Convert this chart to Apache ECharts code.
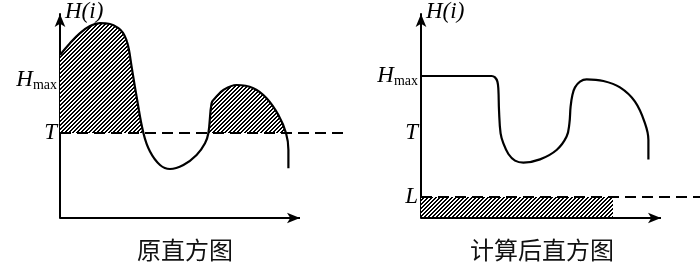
<!DOCTYPE html>
<html><head><meta charset="utf-8">
<script src="https://cdn.jsdelivr.net/npm/echarts@6/dist/echarts.min.js"></script>
<style>html,body{margin:0;padding:0;background:#fff}#c{width:700px;height:264px}</style>
</head><body><div id="c"></div>
<script>
// ---- data (arbitrary units: x = gray level, y = histogram count) ----
const leftCurve = [
  [0,81.5],[5,87.4],[10,92.4],[15,96],[20,97.4],[25,97],[29.2,94.9],[31.5,92.6],[33.2,89],[34.4,84.5],
  [35.8,75.7],[38.3,60.7],[41.7,42.5],[45,33.2],[50,26.5],[55,24.5],[61.7,26.5],[68.3,31.5],
  [72.5,37.4],[74.2,42.5],[75.8,57.4],[77.5,59.9],[81.7,64],[88.3,66.5],[96.7,64.9],
  [103.3,59.9],[109.2,51.5],[113,42.5],[114.2,34],[114.2,24.9]
];
const rightCurve = [
  [0,71],[35.3,71],[37,70.3],[38.2,68.2],[38.7,64],[39,54],[39.8,42.3],[41.2,37.3],[43.7,32],
  [47,28.7],[51.2,27.7],[59.5,29.3],[67.8,34],[72.8,40.7],[74.2,47.3],[74.8,55.7],[75.7,61.5],
  [77,65.3],[79.5,68.2],[82.8,69.3],[91.2,68.5],[99.5,65.3],[107,58.2],[112,47.3],[113.7,39],[113.7,29.3]
];
const T = 42.5;          // threshold (left and right)
const HmaxLeft = 69;     // label position on left axis
const HmaxRight = 71;    // clipped level on right
const L = 10.5;          // redistributed level
const xAxisEnd = 120;    // end of the drawn x axis (arrow)
const leftDashEnd = 141.5;
const rightDashEnd = 139.5;
const rightHatchEnd = 96;
const leftTicks = [T, HmaxLeft];
const leftTickLabels = ['{i|T}', '{i|H}{s|max}'];
const rightTicks = [L, T, HmaxRight];
const rightTickLabels = ['{i|L}', '{i|T}', '{i|H}{s|max}'];
const captions = ['原直方图', '计算后直方图'];

// hatched runs of the left curve: contiguous points with y >= T
const hatchRuns = [];
let run = [];
leftCurve.forEach(p => { if (p[1] >= T) run.push(p); else { if (run.length > 1) hatchRuns.push(run); run = []; } });
if (run.length > 1) hatchRuns.push(run);

// crisp "////" hatch pattern, 4px period
const pc = document.createElement('canvas');
pc.width = 4; pc.height = 4;
const g = pc.getContext('2d');
g.fillStyle = '#fff'; g.fillRect(0, 0, 4, 4);
g.fillStyle = '#000';
for (let x = 0; x < 4; x++) for (let y = 0; y < 4; y++) {
  const m = (x + y) % 4;
  if (m === 0 || m === 1) g.fillRect(x, y, 1, 1);
}
const hatch = { image: pc, repeat: 'repeat' };

const chart = echarts.init(document.getElementById('c'), null, { renderer: 'canvas' });

const rich = {
  i: { fontFamily: 'Liberation Serif', fontStyle: 'italic', fontSize: 23, color: '#000' },
  s: { fontFamily: 'Liberation Serif', fontSize: 14, color: '#000', padding: [11, 0, 0, 0] }
};
function yAxisFor(ticks, labels, gi) {
  return {
    gridIndex: gi, type: 'value', min: 0, max: 102, interval: 0.5,
    splitLine: { show: false }, axisTick: { show: false },
    axisLine: { show: true, lineStyle: { color: '#000', width: 2 }, symbol: ['none', 'arrow'], symbolSize: [8, 13] },
    axisLabel: {
      margin: 3, rich,
      formatter: v => { const k = ticks.indexOf(v); return k >= 0 ? labels[k] : ''; }
    }
  };
}
function xAxisFor(gi, max) {
  return {
    gridIndex: gi, type: 'value', min: 0, max,
    splitLine: { show: false }, axisTick: { show: false }, axisLabel: { show: false },
    axisLine: { show: false }
  };
}
const dashStyle = { color: '#000', width: 1.8, type: [11, 6] };
function xAxisLine(gi) {
  return {
    type: 'line', xAxisIndex: gi, yAxisIndex: gi, symbol: 'none', z: 5,
    data: [{ value: [0, 0] }, { value: [xAxisEnd, 0], symbol: 'arrow', symbolSize: [8, 13], symbolRotate: -90 }],
    showSymbol: true, showAllSymbol: true,
    itemStyle: { color: '#000' }, lineStyle: { color: '#000', width: 2 }
  };
}

const series = [];
hatchRuns.forEach(r => series.push({
  type: 'line', xAxisIndex: 0, yAxisIndex: 0, data: r, smooth: 0.4, symbol: 'none',
  lineStyle: { width: 0, opacity: 0 }, areaStyle: { color: hatch, opacity: 1, origin: T }, z: 1
}));
series.push({
  type: 'line', xAxisIndex: 0, yAxisIndex: 0, data: [[0, T], [leftDashEnd, T]], symbol: 'none',
  lineStyle: dashStyle, z: 3
});
series.push({
  type: 'line', xAxisIndex: 0, yAxisIndex: 0, data: leftCurve, smooth: 0.4, symbol: 'none',
  lineStyle: { color: '#000', width: 2.2 }, z: 4
});
series.push(xAxisLine(0));
series.push({
  type: 'line', xAxisIndex: 1, yAxisIndex: 1, data: [[0, L], [rightHatchEnd, L]], symbol: 'none',
  lineStyle: { width: 0, opacity: 0 }, areaStyle: { color: hatch, opacity: 1 }, z: 1
});
series.push({
  type: 'line', xAxisIndex: 1, yAxisIndex: 1, data: [[0, L], [rightDashEnd, L]], symbol: 'none',
  lineStyle: dashStyle, z: 3
});
series.push({
  type: 'line', xAxisIndex: 1, yAxisIndex: 1, data: rightCurve, smooth: 0.4, symbol: 'none',
  lineStyle: { color: '#000', width: 2.2 }, z: 4
});
series.push(xAxisLine(1));

chart.setOption({
  animation: false,
  backgroundColor: '#fff',
  grid: [
    { left: 60, top: 14, width: 283, height: 204 },
    { left: 421, top: 14, width: 279, height: 204 }
  ],
  xAxis: [xAxisFor(0, leftDashEnd), xAxisFor(1, rightDashEnd)],
  yAxis: [yAxisFor(leftTicks, leftTickLabels, 0), yAxisFor(rightTicks, rightTickLabels, 1)],
  graphic: [
    { type: 'text', left: 65, top: 0, style: { text: 'H(i)', fontFamily: 'Liberation Serif', fontStyle: 'italic', fontSize: 23, fill: '#000' } },
    { type: 'text', left: 426, top: 0, style: { text: 'H(i)', fontFamily: 'Liberation Serif', fontStyle: 'italic', fontSize: 23, fill: '#000' } },
    { type: 'text', x: 185, y: 250, style: { text: captions[0], fontFamily: 'Noto Sans CJK SC', fontSize: 24, fill: '#111', align: 'center', verticalAlign: 'middle' } },
    { type: 'text', x: 542, y: 250, style: { text: captions[1], fontFamily: 'Noto Sans CJK SC', fontSize: 24, fill: '#111', align: 'center', verticalAlign: 'middle' } }
  ],
  series
});
</script></body></html>
